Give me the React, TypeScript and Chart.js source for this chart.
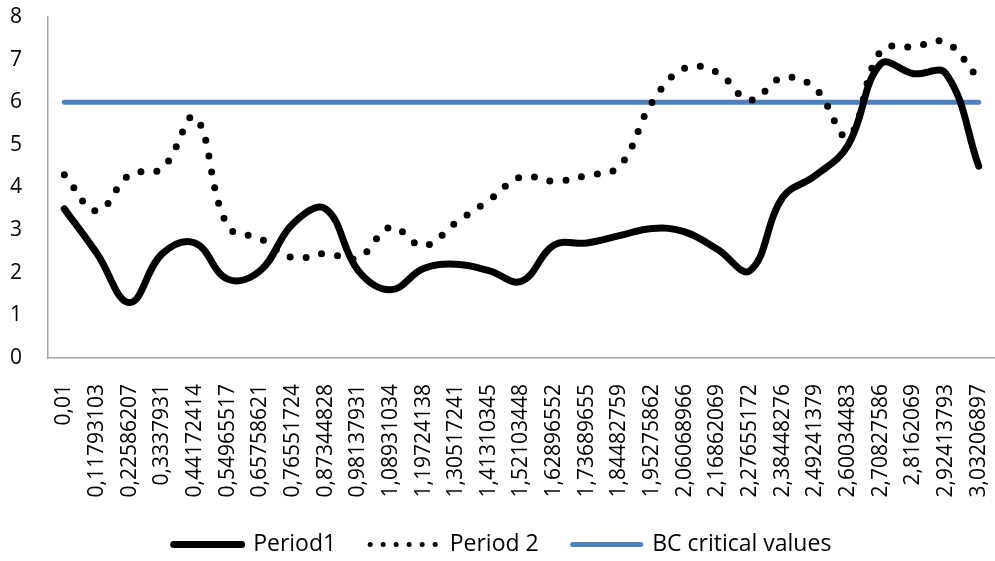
import React, { useEffect, useRef } from "react";
import { Chart, registerables } from "chart.js";

Chart.register(...registerables);

const categories = ["0,01","0,11793103","0,22586207","0,3337931","0,44172414","0,54965517","0,65758621","0,76551724","0,87344828","0,98137931","1,08931034","1,19724138","1,30517241","1,41310345","1,52103448","1,62896552","1,73689655","1,84482759","1,95275862","2,06068966","2,16862069","2,27655172","2,38448276","2,49241379","2,60034483","2,70827586","2,8162069","2,92413793","3,03206897"];

const period1 = [3.5, 2.45, 1.3, 2.45, 2.7, 1.85, 2.05, 3.15, 3.5, 2.05, 1.6, 2.1, 2.2, 2.05, 1.8, 2.65, 2.7, 2.87, 3.04, 2.96, 2.55, 2.05, 3.77, 4.28, 4.99, 6.9, 6.67, 6.67, 4.5];

const period2 = [4.3, 3.45, 4.3, 4.45, 5.65, 3.1, 2.8, 2.35, 2.45, 2.35, 3.07, 2.63, 3.18, 3.7, 4.25, 4.15, 4.28, 4.5, 6.0, 6.8, 6.7, 6.05, 6.58, 6.32, 5.2, 7.2, 7.3, 7.4, 6.55];

const bcCritical = [6, 6, 6, 6, 6, 6, 6, 6, 6, 6, 6, 6, 6, 6, 6, 6, 6, 6, 6, 6, 6, 6, 6, 6, 6, 6, 6, 6, 6];

const yTicks = [0, 1, 2, 3, 4, 5, 6, 7, 8];

const FONT = "'Open Sans', sans-serif";

export default function App() {
  const ref = useRef<HTMLCanvasElement | null>(null);

  useEffect(() => {
    document.body.style.margin = "0";
    const canvas = ref.current;
    if (!canvas) return;
    const chart = new Chart(canvas, {
      type: "line",
      data: {
        labels: categories,
        datasets: [
          {
            label: "Period1",
            data: period1,
            borderColor: "#000000",
            backgroundColor: "#000000",
            borderWidth: 7,
            borderCapStyle: "round",
            borderJoinStyle: "round",
            tension: 0.4,
            pointRadius: 0,
            pointStyle: "line",
          },
          {
            label: "Period 2",
            data: period2,
            borderColor: "#000000",
            backgroundColor: "#000000",
            borderWidth: 7,
            borderDash: [0, 16],
            borderCapStyle: "round",
            tension: 0.4,
            pointRadius: 0,
            pointStyle: "line",
          },
          {
            label: "BC critical values",
            data: bcCritical,
            borderColor: "#4F81BD",
            backgroundColor: "#4F81BD",
            borderWidth: 5,
            borderCapStyle: "round",
            tension: 0,
            pointRadius: 0,
            pointStyle: "line",
          },
        ],
      },
      options: {
        animation: false,
        responsive: false,
        maintainAspectRatio: false,
        layout: { padding: { top: 17, right: 0, left: 10, bottom: -5 } },
        plugins: {
          tooltip: { enabled: false },
          legend: {
            display: true,
            position: "bottom",
            labels: {
              usePointStyle: true,
              pointStyleWidth: 68,
              padding: 34,
              color: "#000000",
              font: { family: FONT, size: 23 },
              generateLabels: (c: any) => {
                const ds = c.data.datasets;
                return ds.map((d: any, i: number) => ({
                  text: d.label,
                  fillStyle: d.borderColor,
                  strokeStyle: d.borderColor,
                  lineWidth: i === 0 ? 7 : 5,
                  lineDash: i === 1 ? [0, 13] : [],
                  lineCap: "round",
                  pointStyle: "line",
                  fontColor: "#000000",
                  hidden: false,
                  datasetIndex: i,
                }));
              },
            },
          },
        },
        scales: {
          x: {
            grid: { display: false },
            border: { display: true, color: "#A6A6A6", width: 1.5 },
            offset: true,
            ticks: {
              autoSkip: false,
              maxRotation: 90,
              minRotation: 90,
              padding: 18,
              color: "#000000",
              font: { family: FONT, size: 21 },
            },
            afterFit: (s: any) => {
              s.height = 141;
              s.paddingRight = 0;
              s.paddingLeft = 0;
            },
          },
          y: {
            min: 0,
            max: 8,
            grid: { display: false },
            border: { display: true, color: "#A6A6A6", width: 1.5 },
            afterBuildTicks: (s: any) => {
              s.ticks = yTicks.map((v) => ({ value: v }));
            },
            ticks: {
              padding: 0,
              crossAlign: "far",
              color: "#000000",
              font: { family: FONT, size: 21 },
            },
            afterFit: (s: any) => {
              s.width = 38;
            },
          },
        },
      },
    });
    return () => chart.destroy();
  }, []);

  return (
    <div style={{ width: 995, height: 561 }}>
      <canvas ref={ref} width={995} height={561} style={{ display: "block" }} />
    </div>
  );
}
